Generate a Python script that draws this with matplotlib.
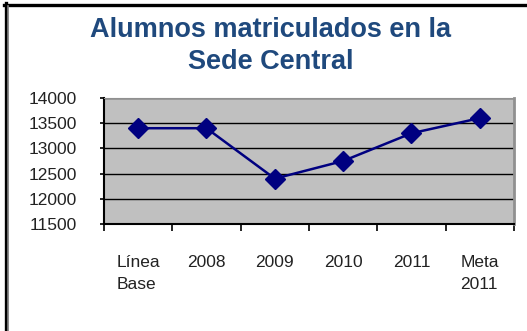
import numpy as np
import matplotlib.pyplot as plt
from matplotlib.lines import Line2D

plt.rcParams['font.family'] = ['Liberation Sans', 'DejaVu Sans']

categorias = ['Línea\nBase', '2008', '2009', '2010', '2011', 'Meta\n2011']
matriculados = [13400, 13400, 12400, 12750, 13300, 13600]
y_ticks = [11500, 12000, 12500, 13000, 13500, 14000]

fig = plt.figure(figsize=(5.27, 3.31), dpi=100)
ax = fig.add_axes([0.1973, 0.3233, 0.778, 0.3807])
ax.set_facecolor('#c0c0c0')

x = np.arange(len(categorias))
ax.plot(x, matriculados, color='#000080', linewidth=1.8, marker='D',
        markersize=10, markerfacecolor='#000080', markeredgecolor='#000080',
        zorder=3)

ax.set_xlim(-0.5, len(categorias) - 0.5)
ax.set_ylim(11500, 14000)
ax.set_yticks(y_ticks)
ax.set_yticklabels([str(v) for v in y_ticks])
ax.yaxis.grid(True, color='black', linewidth=1.0)
ax.set_axisbelow(True)

# etiquetas centradas en cada categoria, marcas en los limites
ax.set_xticks(x)
ax.set_xticklabels(categorias, linespacing=1.55, multialignment='left')
ax.set_xticks(np.arange(len(categorias) + 1) - 0.5, minor=True)
ax.tick_params(axis='x', which='major', length=0, pad=22.5, labelsize=12.5,
               labelcolor='#222222')
ax.tick_params(axis='x', which='minor', length=5, width=1.2, direction='out')
ax.tick_params(axis='y', length=3, width=1.2, pad=16.5, labelsize=12.5,
               labelcolor='#222222')
for lbl in ax.get_yticklabels():
    lbl.set_horizontalalignment('right')

ax.spines['left'].set_linewidth(1.5)
ax.spines['bottom'].set_linewidth(1.5)
ax.spines['top'].set_color('#909090')
ax.spines['right'].set_color('#909090')
ax.spines['right'].set_linewidth(2)

fig.text(0.514, 0.908, 'Alumnos matriculados en la', ha='center', va='center',
         fontsize=19.5, fontweight='bold', color='#1f497d')
fig.text(0.514, 0.814, 'Sede Central', ha='center', va='center',
         fontsize=19.5, fontweight='bold', color='#1f497d')

# marco exterior
fig.add_artist(Line2D([4 / 527, 1], [1 - 4.5 / 331] * 2, color='black',
                      linewidth=2.4, transform=fig.transFigure))
fig.add_artist(Line2D([5.5 / 527] * 2, [0, 1 - 3 / 331], color='black',
                      linewidth=2.4, transform=fig.transFigure))
fig.add_artist(Line2D([8 / 527] * 2, [0, 1 - 6 / 331], color='#808080',
                      linewidth=1.2, transform=fig.transFigure))

fig.savefig('out.png', dpi=100)
